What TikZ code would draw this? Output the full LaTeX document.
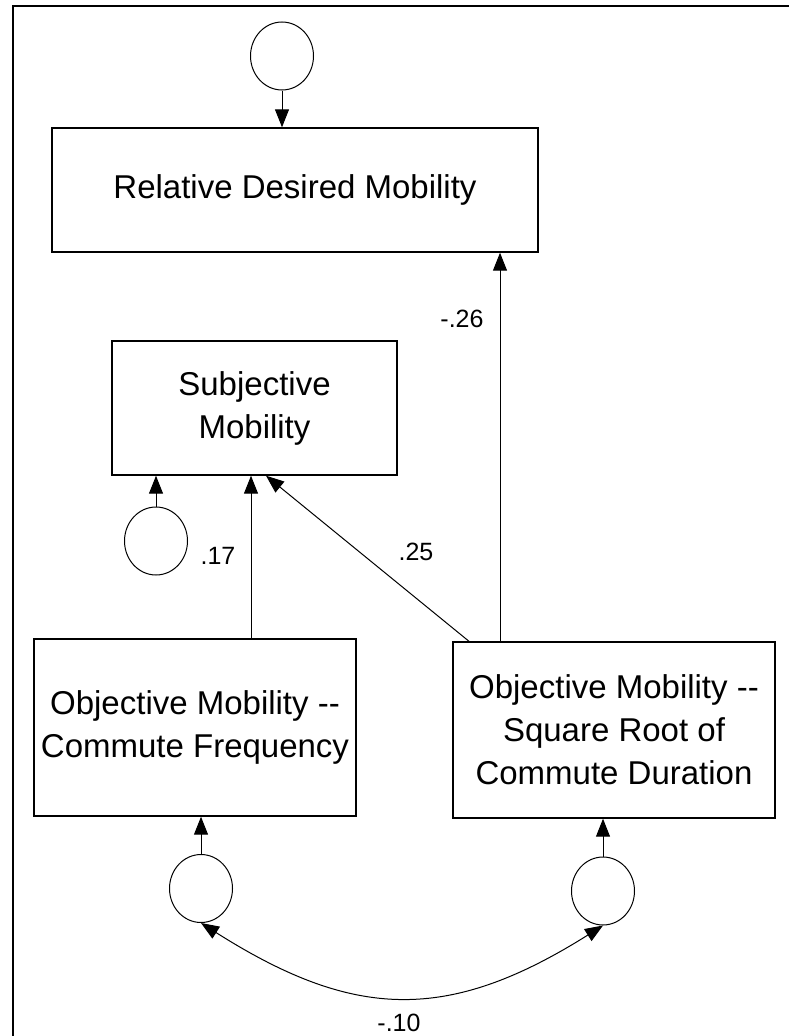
\documentclass[tikz,border=0pt]{standalone}
\usepackage{fontspec}
\setmainfont{Liberation Sans}
\usetikzlibrary{arrows.meta,shapes.geometric}
\newcommand{\dd}{\mbox{-}\mbox{-}}
\tikzset{
  box/.style={draw, line width=1.4pt, minimum width=#1, inner sep=0pt, align=center,
    font=\fontsize{33}{43}\selectfont},
  err/.style={draw, line width=1pt, ellipse, minimum width=63pt, minimum height=68pt, inner sep=0pt},
  arr/.style={line width=1pt, -{Triangle[length=18pt,width=14pt]}},
  cov/.style={line width=1pt, {Triangle[length=18pt,width=14pt]}-{Triangle[length=18pt,width=14pt]}},
  lab/.style={font=\fontsize{25}{29}\selectfont, inner sep=0pt},
}
\begin{document}
\begin{tikzpicture}[x=1pt,y=-1pt]
\useasboundingbox (0,0) rectangle (789,1036);
\draw[line width=2pt] (12.7,1036) -- (12.7,5.7) -- (789,5.7);

\node[box=486pt, minimum height=124pt] (rdm) at (295,190) {Relative Desired Mobility};
\node[box=285pt, minimum height=134pt] (sm) at (254.5,408) {Subjective\\Mobility};
\node[box=322pt, minimum height=177pt] (cf) at (195,727.5) {Objective Mobility \dd\\Commute Frequency};
\node[box=322pt, minimum height=176pt] (cd) at (614,730) {Objective Mobility \dd\\Square Root of\\Commute Duration};

\node[err] (e0) at (282,56) {};
\node[err] (e1) at (156,541) {};
\node[err] (e2) at (201,888.5) {};
\node[err] (e3) at (603,891) {};

\draw[arr] (e0.south) -- (rdm.north -| e0.south);
\draw[arr] (e1.north) -- (sm.south -| e1.north);
\draw[arr] (cf.north -| 251,0) -- (sm.south -| 251,0);
\draw[arr] (cd.north -| 469,0) -- (sm.south -| 266,0);
\draw[arr] (cd.north -| 500,0) -- (rdm.south -| 500,0);
\draw[arr] (e2.north) -- (cf.south -| e2.north);
\draw[arr] (e3.north) -- (cd.south -| e3.north);
\draw[cov] (e2.south) .. controls (354,1020) and (448,1023) .. (e3.south);

\node[lab] (l17) at (218,556) {.17};
\node[lab] (l25) at (416,552) {.25};
\node[lab] (l26) at (462,319) {-.26};
\node[lab] (l10) at (399,1023) {-.10};
\end{tikzpicture}
\end{document}
